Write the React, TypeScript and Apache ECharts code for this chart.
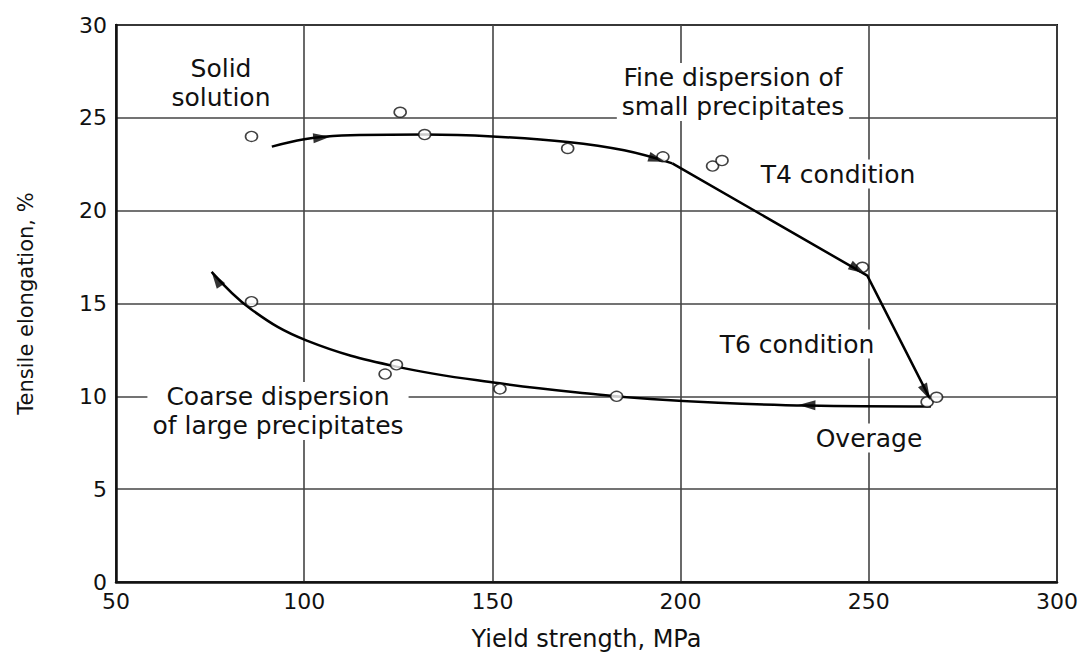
import React, { useEffect, useRef } from 'react';
import * as echarts from 'echarts';

// Measured sample points (yield strength MPa, elongation %)
const samplePoints: [number, number][] = [
  [86, 24.0], [125.5, 25.3], [132, 24.1], [170, 23.35], [195.3, 22.9],
  [208.5, 22.4], [211, 22.7], [248.3, 16.95], [265.5, 9.7], [268, 9.95],
  [183, 10.0], [152, 10.4], [124.5, 11.7], [121.5, 11.2], [86, 15.1],
];

// Trend path: aging (smooth part)
const upperCurve: [number, number][] = [
  [91.4, 23.45], [100, 23.85], [110, 24.05], [132, 24.1], [150, 24.0],
  [170, 23.7], [185, 23.25], [197.8, 22.55],
];
// Trend path: T4 -> T6 -> overage (straight parts)
const upperStraight: [number, number][] = [
  [197.8, 22.55], [249.6, 16.5], [266.3, 9.85],
];
// Trend path: overaging back to coarse dispersion
const lowerCurve: [number, number][] = [
  [266.5, 9.45], [233.7, 9.5], [210, 9.65], [192, 9.85], [178, 10.1],
  [152, 10.7], [124.5, 11.6], [100.7, 13.0], [85.8, 14.7], [75.4, 16.7],
];

// Arrowheads: tip and a point behind it along the path
const arrowTips: [number, number][] = [
  [106.9, 23.98], [195.9, 22.63], [249.0, 16.62], [266.3, 9.8], [231.3, 9.53], [75.4, 16.7],
];
const arrowFrom: [number, number][] = [
  [100, 23.85], [190, 23.0], [197.8, 22.55], [249.6, 16.5], [240, 9.5], [79, 15.6],
];

const annotationTexts: string[] = [
  'Solid\nsolution',
  'Fine dispersion of\nsmall precipitates',
  'T4 condition',
  'T6 condition',
  'Overage',
  'Coarse dispersion\nof large precipitates',
];

const xAxisTitle = 'Yield strength, MPa';
const yAxisTitle = 'Tensile elongation, %';

export default function App() {
  const ref = useRef<HTMLDivElement>(null);

  useEffect(() => {
    document.body.style.margin = '0';
    const chart = echarts.init(ref.current!, null, { renderer: 'svg' });
    const font = '"DejaVu Sans", sans-serif';
    const textColor = '#111';

    const annPos = [
      [221, 83], [733, 92], [838, 174], [797, 344], [869, 438], [278, 411],
    ];

    const option: any = {
      animation: false,
      backgroundColor: '#ffffff',
      grid: {
        left: 116, right: 25, top: 25, bottom: 70,
        show: true, borderColor: '#111', borderWidth: 2,
        containLabel: false, outerBoundsMode: 'none',
      },
      xAxis: {
        type: 'value', min: 50, max: 300, interval: 50,
        axisLine: { show: true, lineStyle: { color: '#111', width: 2.5 } },
        axisTick: { show: false },
        splitLine: { show: true, lineStyle: { color: '#444', width: 1.6 } },
        axisLabel: { fontFamily: font, fontSize: 22, color: textColor, margin: 8 },
        name: xAxisTitle, nameLocation: 'middle', nameGap: 45,
        nameTextStyle: { fontFamily: font, fontSize: 24, color: textColor },
      },
      yAxis: {
        type: 'value', min: 0, max: 30, interval: 5,
        axisLine: { show: true, lineStyle: { color: '#111', width: 2.5 } },
        axisTick: { show: false },
        splitLine: { show: true, lineStyle: { color: '#444', width: 1.6 } },
        axisLabel: { fontFamily: font, fontSize: 22, color: textColor, margin: 9 },
        name: yAxisTitle, nameLocation: 'middle', nameGap: 80,
        nameTextStyle: { fontFamily: font, fontSize: 21, color: textColor },
      },
      graphic: annotationTexts.map((t, i) => ({
        type: 'text',
        x: annPos[i][0], y: annPos[i][1],
        z: 1,
        silent: true,
        style: {
          text: t,
          font: `25px ${font}`,
          fill: textColor,
          textAlign: 'center',
          textVerticalAlign: 'middle',
          lineHeight: 29,
          backgroundColor: '#ffffff',
          padding: [0, 5],
        },
      })),
      series: [
        {
          id: 'upper', type: 'line', data: upperCurve, smooth: 0.4,
          symbol: 'none', silent: true, z: 2,
          lineStyle: { color: '#000', width: 2.5 },
        },
        {
          id: 'upperStraight', type: 'line', data: upperStraight, smooth: false,
          symbol: 'none', silent: true, z: 2,
          lineStyle: { color: '#000', width: 2.5 },
        },
        {
          id: 'lower', type: 'line', data: lowerCurve, smooth: 0.4,
          symbol: 'none', silent: true, z: 2,
          lineStyle: { color: '#000', width: 2.5 },
        },
        {
          id: 'points', type: 'scatter', data: samplePoints,
          symbol: 'circle', symbolSize: [12, 10], silent: true, z: 3,
          itemStyle: { color: '#ffffff', borderColor: '#111', borderWidth: 1.5 },
        },
        {
          id: 'arrows', type: 'scatter', data: [],
          symbol: 'triangle', symbolSize: [10, 17], silent: true, z: 4,
          itemStyle: { color: '#000' },
        },
      ],
    };

    chart.setOption(option);

    const h = 17;
    const arrowData = arrowTips.map((tip, i) => {
      const pt = chart.convertToPixel({ gridIndex: 0 }, tip) as number[];
      const pf = chart.convertToPixel({ gridIndex: 0 }, arrowFrom[i]) as number[];
      const dx = pt[0] - pf[0];
      const dy = pt[1] - pf[1];
      const len = Math.hypot(dx, dy) || 1;
      const ux = dx / len;
      const uy = dy / len;
      const c = [pt[0] - (ux * h) / 2, pt[1] - (uy * h) / 2];
      const cd = chart.convertFromPixel({ gridIndex: 0 }, c) as number[];
      const angle = (Math.atan2(-dy, dx) * 180) / Math.PI - 90;
      return { value: cd, symbolRotate: angle };
    });
    chart.setOption({ series: [{ id: 'arrows', data: arrowData }] });

    return () => chart.dispose();
  }, []);

  return <div ref={ref} style={{ width: 1082, height: 652 }} />;
}
